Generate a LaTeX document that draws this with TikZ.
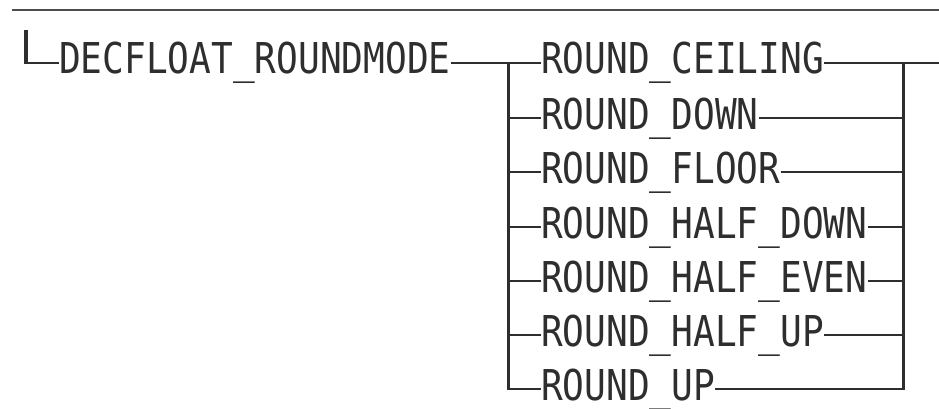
\documentclass[tikz,border=0pt]{standalone}
\usepackage{fontspec}
\newfontfamily\syntaxfont[FakeStretch=0.85]{DejaVu Sans Mono}
\definecolor{ink}{HTML}{2E2E2E}
\begin{document}
\begin{tikzpicture}[x=1pt,y=-1pt,
  kw/.style={anchor=west,inner sep=0pt,text height=31pt,text depth=9pt,
    font=\syntaxfont\fontsize{42.5}{48}\selectfont,text=ink},
  hline/.style={draw=ink,line width=1.5pt},
  vline/.style={draw=ink,line width=3pt},
]
\useasboundingbox (0,0) rectangle (939,409);
% top rule
\coordinate (tl) at (12,10);
\coordinate (tr) at (939,10);
\draw[draw=ink!85,line width=2pt] (tl) -- (tr);
% start bar
\coordinate (s1) at (26,30);
\coordinate (s2) at (26,64.5);
\draw[draw=ink,line width=3.5pt] (s1) -- (s2);
\node[kw] (main) at (59,63) {DECFLOAT\_ROUNDMODE};
\draw[hline] (24.5,63) -- (main.west);
% branch nodes
\node[kw] (c1) at (541,63)  {ROUND\_CEILING};
\node[kw] (c2) at (541,118) {ROUND\_DOWN};
\node[kw] (c3) at (541,172) {ROUND\_FLOOR};
\node[kw] (c4) at (541,227) {ROUND\_HALF\_DOWN};
\node[kw] (c5) at (541,281) {ROUND\_HALF\_EVEN};
\node[kw] (c6) at (541,335) {ROUND\_HALF\_UP};
\node[kw] (c7) at (541,389) {ROUND\_UP};
\coordinate (L) at (508,63);
\coordinate (R) at (903,63);
\coordinate (Lb) at (508,389.7);
\coordinate (Rb) at (903,389.7);
\coordinate (end) at (939,63);
% main line
\draw[hline] (main.east) -- (c1.west);
\draw[hline] (c1.east) -- (end);
% verticals
\draw[vline] (L) -- (Lb);
\draw[vline] (R) -- (Rb);
% branch connectors
\foreach \n in {c2,c3,c4,c5,c6,c7}{
  \draw[hline] (L |- \n.west) -- (\n.west);
  \draw[hline] (\n.east) -- (R |- \n.east);
}
\end{tikzpicture}
\end{document}
